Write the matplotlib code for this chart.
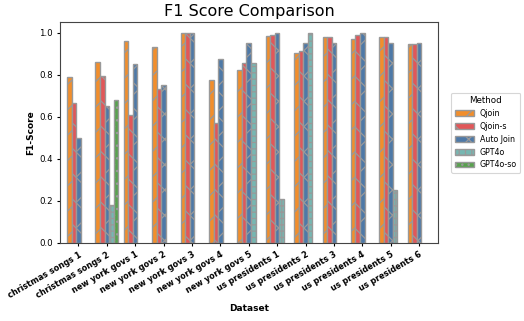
import numpy as np
import matplotlib
matplotlib.use('Agg')
import matplotlib.pyplot as plt

# === DATI ===
datasets = ['christmas songs 1', 'christmas songs 2', 'new york govs 1', 'new york govs 2',
            'new york govs 3', 'new york govs 4', 'new york govs 5', 'us presidents 1',
            'us presidents 2', 'us presidents 3', 'us presidents 4', 'us presidents 5',
            'us presidents 6']
methods = ['Qjoin', 'Qjoin-s', 'Auto Join', 'GPT4o', 'GPT4o-so']

qjoin = [0.79, 0.86, 0.96, 0.93, 1.0, 0.775, 0.823, 0.985, 0.902, 0.979, 0.970, 0.979, 0.944]
qjoin_s = [0.666, 0.792, 0.607, 0.734, 1.0, 0.569, 0.856, 0.987, 0.911, 0.979, 0.990, 0.979, 0.944]
auto_join = [0.50, 0.653, 0.853, 0.751, 1.0, 0.873, 0.951, 1.0, 0.951, 0.951, 1.0, 0.951, 0.951]
gpt4o = [np.nan, 0.179, np.nan, np.nan, np.nan, np.nan, 0.856, 0.209, 1.0, np.nan, np.nan, 0.253, np.nan]
gpt4o_so = [np.nan, 0.681, np.nan, np.nan, np.nan, np.nan, np.nan, np.nan, np.nan, np.nan, np.nan, np.nan, np.nan]

series = [qjoin, qjoin_s, auto_join, gpt4o, gpt4o_so]
colors = ['#f28e2b', '#e15759', '#4e79a7', '#76b7b2', '#59a14f']
hatches = ['/', '\\', 'x', '++', '..']

# dpi basso per avere la stessa densita' dei tratteggi
DPI = 76
S = 100 / DPI

plt.rcParams['hatch.color'] = '#808080'
plt.rcParams['hatch.linewidth'] = 0.9 * S

fig = plt.figure(figsize=(524 / DPI, 321 / DPI), dpi=DPI)
ax = fig.add_axes([0.1145, 0.243, 0.7215, 0.688])

x = np.arange(len(datasets))
width = 0.16
for i, (vals, name) in enumerate(zip(series, methods)):
    vals = np.array(vals, dtype=float)
    ok = ~np.isnan(vals)
    ax.bar(x[ok] + (i - 2) * width, vals[ok], width=width, color=colors[i],
           edgecolor='#999999', linewidth=1.0 * S, hatch=hatches[i], label=name)

ax.set_xlim(-0.65, 12.67)
ax.set_ylim(0, 1.05)
ax.set_xticks(x)
ax.set_xticklabels(datasets, rotation=30, ha='right', fontsize=5.9 * S, fontweight='bold',
                   rotation_mode='anchor')
ax.tick_params(axis='y', labelsize=6.2 * S, length=2.5 * S, width=0.8 * S)
ax.tick_params(axis='x', length=2.5 * S, width=0.8 * S)
ax.set_xlabel('Dataset', fontsize=6.5 * S, fontweight='bold')
ax.set_ylabel('F1-Score', fontsize=6.5 * S, fontweight='bold')
ax.set_title('F1 Score Comparison', fontsize=11.5 * S)

leg = ax.legend(title='Method', loc='center left', bbox_to_anchor=(1.025, 0.5),
                fontsize=5.7 * S, title_fontsize=6.3 * S, handlelength=2.4)
leg.get_frame().set_linewidth(0.8 * S)

for s in ax.spines.values():
    s.set_color('#444444')
    s.set_linewidth(0.8 * S)

plt.savefig('out.png', dpi=DPI)
